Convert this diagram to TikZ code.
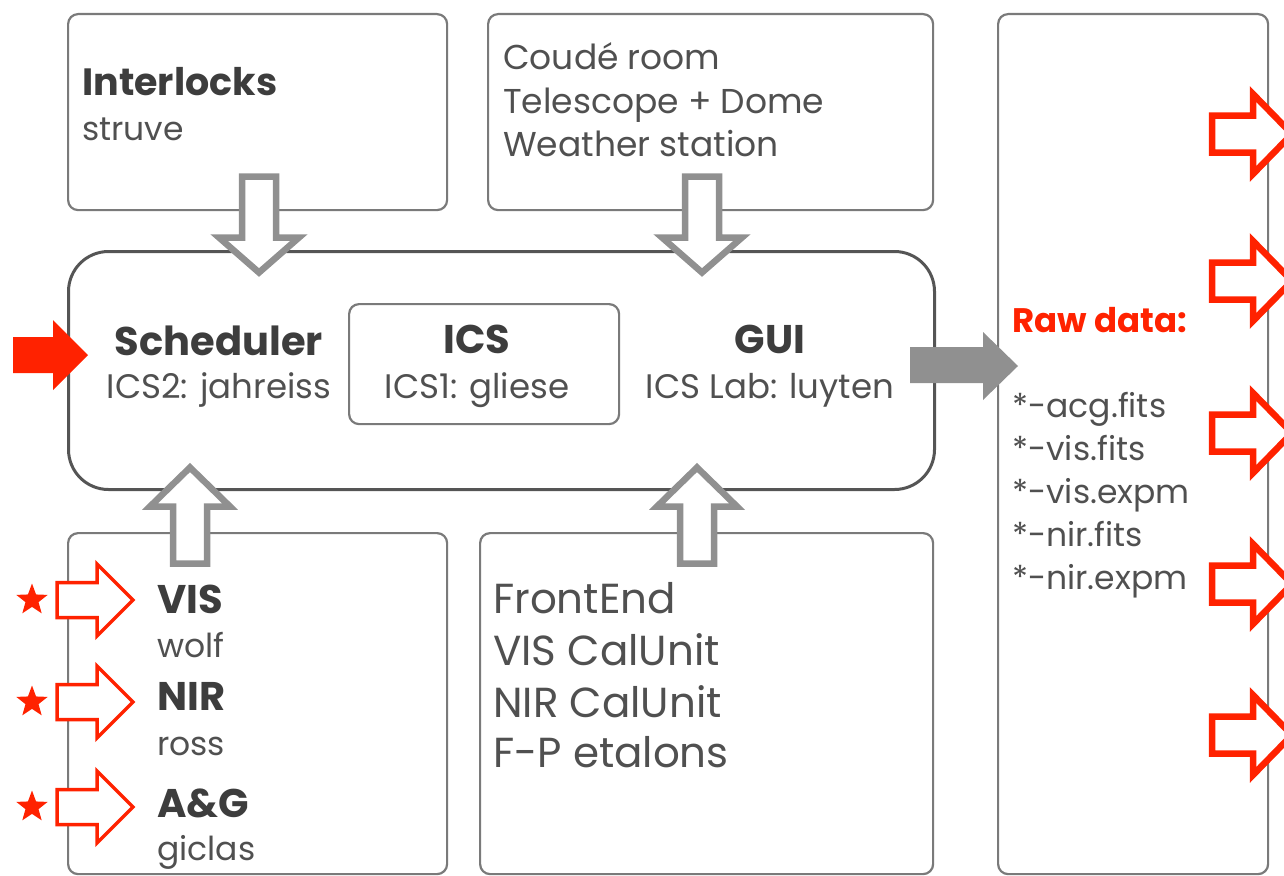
\documentclass[tikz,border=0pt]{standalone}
\usepackage{fontspec}
\setmainfont{Poppins}
\usetikzlibrary{shapes.geometric}
\definecolor{boxgray}{HTML}{7A7A7A}
\definecolor{maingray}{HTML}{555555}
\definecolor{arrgray}{HTML}{909090}
\definecolor{txtdark}{HTML}{3D3D3D}
\definecolor{txtgray}{HTML}{505050}
\definecolor{hred}{HTML}{FF2200}
\newcommand\downarr[2]{\draw[grayarr, shift={(#1,#2)}] (-17,0) -- (17,0) -- (17,61) -- (40,61) -- (0,96) -- (-40,61) -- (-17,61) -- cycle;}
\newcommand\uparr[2]{\draw[grayarr, shift={(#1,#2)}] (-17,0) -- (17,0) -- (17,-57) -- (40,-57) -- (0,-96) -- (-40,-57) -- (-17,-57) -- cycle;}
\newcommand\redarrL[2]{\draw[redarrL, shift={(#1,#2)}] (0,-17.5) -- (40,-17.5) -- (40,-36) -- (76,0) -- (40,36) -- (40,17.5) -- (0,17.5) -- cycle;}
\newcommand\redarrR[2]{\draw[redarrR, shift={(#1,#2)}] (0,-18.5) -- (41,-18.5) -- (41,-40) -- (80,0) -- (41,40) -- (41,18.5) -- (0,18.5) -- cycle;}
\begin{document}
\begin{tikzpicture}[x=1pt,y=-1pt,
  box/.style={draw=boxgray, line width=2.2pt, rounded corners=10pt, inner sep=0pt, anchor=north west},
  mainbox/.style={draw=maingray, line width=3pt, rounded corners=40pt, inner sep=0pt, anchor=north west},
  grayarr/.style={draw=arrgray, fill=white, line width=6.5pt, line join=miter},
  redarrL/.style={draw=hred, fill=white, line width=3.5pt, line join=miter},
  redarrR/.style={draw=hred, fill=white, line width=6.5pt, line join=miter},
  redstar/.style={star, star points=5, star point ratio=2.4, fill=hred, minimum size=33pt, inner sep=0pt},
  bt/.style={inner sep=0pt, text=txtdark, font=\fontsize{40}{48}\selectfont\bfseries},
  rt/.style={inner sep=0pt, text=txtgray, font=\fontsize{34}{41}\selectfont},
  st/.style={inner sep=0pt, text=txtgray, font=\fontsize{33}{40}\selectfont},
  ct/.style={inner sep=0pt, text=txtgray, font=\fontsize{34.5}{41}\selectfont},
  lt/.style={inner sep=0pt, text=txtgray, font=\fontsize{42}{50}\selectfont},
]
\useasboundingbox (0,0) rectangle (1284,875);
\clip (0,0) rectangle (1284,875);
% boxes
\node[box, minimum width=379pt, minimum height=196pt] (intl) at (67,13) {};
\node[box, minimum width=445pt, minimum height=196pt] (coude) at (487,13) {};
\node[box, minimum width=270pt, minimum height=860pt] (raw) at (997,13) {};
\node[mainbox, minimum width=866pt, minimum height=238pt] (main) at (67,250) {};
\node[box, minimum width=270pt, minimum height=120pt] (ics) at (348,303) {};
\node[box, minimum width=379pt, minimum height=341pt] (det) at (67,532) {};
\node[box, minimum width=453pt, minimum height=341pt] (fe) at (479,532) {};
% block arrows
\downarr{259}{176.5}
\downarr{702}{176.5}
\uparr{190}{563.5}
\uparr{697}{563.5}
\fill[hred] (13,337) -- (53,337) -- (53,320) -- (88,355) -- (53,390) -- (53,373) -- (13,373) -- cycle;
\fill[arrgray] (910,347) -- (983,347) -- (983,332) -- (1018,366) -- (983,400) -- (983,383) -- (910,383) -- cycle;
\redarrL{57}{600}
\redarrL{57}{702}
\redarrL{57}{807}
\redarrR{1212}{134}
\redarrR{1212}{281}
\redarrR{1212}{433}
\redarrR{1212}{584}
\redarrR{1212}{735}
\node[redstar] (s1) at (32,600) {};
\node[redstar] (s2) at (32,702) {};
\node[redstar] (s3) at (32,807) {};
% texts
\node[bt, anchor=base west, font=\fontsize{38}{46}\selectfont\bfseries] (tintl) at (82,95) {Interlocks};
\node[st, anchor=base west] (tstruve) at (82,140) {struve};
\node[ct, anchor=base west] (tc1) at (503,70) {Coudé room};
\node[ct, anchor=base west] (tc2) at (503,113) {Telescope + Dome};
\node[ct, anchor=base west] (tc3) at (503,156) {Weather station};
\node[bt, anchor=base] (tsch) at (219,355) {Scheduler};
\node[rt, anchor=base] (tsch2) at (219,398) {ICS2: jahreiss};
\node[bt, anchor=base] (tics) at (477,353) {ICS};
\node[rt, anchor=base] (tics2) at (477,398) {ICS1: gliese};
\node[bt, anchor=base] (tgui) at (770,353) {GUI};
\node[rt, anchor=base] (tgui2) at (770,398) {ICS Lab: luyten};
\node[bt, anchor=base west, text=hred, font=\fontsize{34}{40}\selectfont\bfseries] (traw) at (1012,332) {Raw data:};
\node[st, anchor=base west] (f1) at (1012,417) {*-acg.fits};
\node[st, anchor=base west] (f2) at (1012,460) {*-vis.fits};
\node[st, anchor=base west] (f3) at (1012,503) {*-vis.expm};
\node[st, anchor=base west] (f4) at (1012,546) {*-nir.fits};
\node[st, anchor=base west] (f5) at (1012,589) {*-nir.expm};
\node[bt, anchor=base west] (tvis) at (157,613) {VIS};
\node[st, anchor=base west] (twolf) at (157,657) {wolf};
\node[bt, anchor=base west] (tnir) at (157,710) {NIR};
\node[st, anchor=base west] (tross) at (157,755) {ross};
\node[bt, anchor=base west] (tag) at (157,817) {A\&G};
\node[st, anchor=base west] (tgic) at (157,860) {giclas};
\node[lt, anchor=base west] (fe1) at (493,613) {FrontEnd};
\node[lt, anchor=base west] (fe2) at (493,665) {VIS CalUnit};
\node[lt, anchor=base west] (fe3) at (493,717) {NIR CalUnit};
\node[lt, anchor=base west] (fe4) at (493,767) {F-P etalons};
\end{tikzpicture}
\end{document}
